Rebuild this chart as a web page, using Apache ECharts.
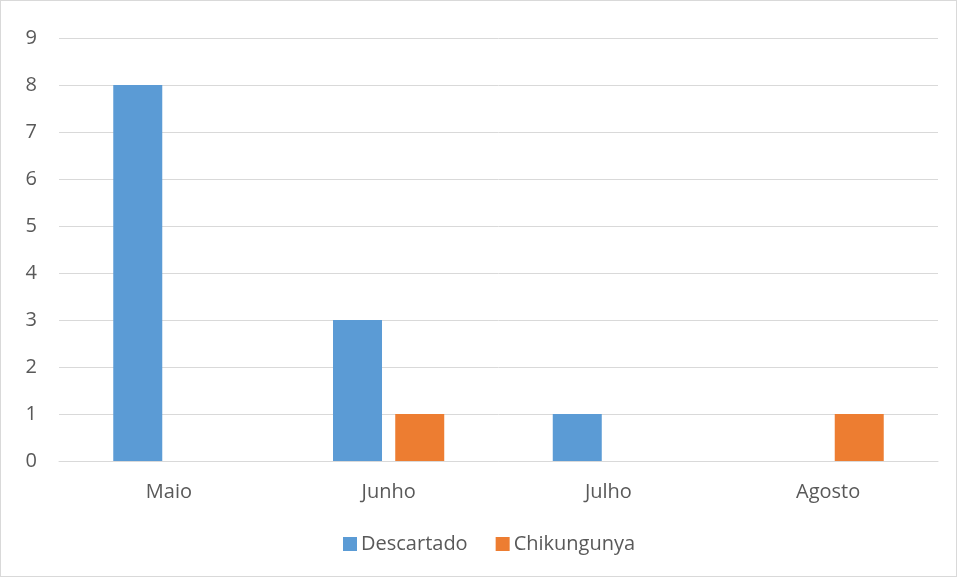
<!DOCTYPE html>
<html>
<head>
<meta charset="utf-8">
<script src="https://cdn.jsdelivr.net/npm/echarts@6/dist/echarts.min.js"></script>
<style>
html,body{margin:0;padding:0;background:#fff;}
#c{position:absolute;left:0;top:0;width:955px;height:575px;border:1px solid #d9d9d9;}
</style>
</head>
<body>
<div id="c"></div>
<script>
const categories = ["Maio", "Junho", "Julho", "Agosto"];
const descartado = [8, 3, 1, 0];
const chikungunya = [0, 1, 0, 1];
const yTicks = [0, 1, 2, 3, 4, 5, 6, 7, 8, 9];

const chart = echarts.init(document.getElementById('c'));
const font = "'Open Sans', 'Noto Sans', sans-serif";
const fs = 20;
chart.setOption({
  animation: false,
  textStyle: {fontFamily: font},
  grid: {left: 58, right: 18, top: 37, bottom: 115},
  legend: {
    bottom: 17,
    left: 337,
    icon: 'rect',
    itemWidth: 14,
    itemHeight: 14,
    itemGap: 28,
    itemStyle: {borderWidth: 0},
    textStyle: {color: '#595959', fontSize: fs, fontFamily: font, padding: [0, 0, 0, -1]},
    data: ['Descartado', 'Chikungunya']
  },
  xAxis: {
    type: 'category',
    data: categories,
    axisLine: {lineStyle: {color: '#d9d9d9'}},
    axisTick: {show: false},
    axisLabel: {color: '#595959', fontSize: fs, margin: 21, fontFamily: font}
  },
  yAxis: {
    type: 'value',
    min: yTicks[0],
    max: yTicks[yTicks.length - 1],
    interval: 1,
    axisLine: {show: false},
    axisTick: {show: false},
    splitLine: {lineStyle: {color: '#d9d9d9'}},
    axisLabel: {color: '#595959', fontSize: fs, margin: 22, fontFamily: font}
  },
  series: [
    {name: 'Descartado', type: 'bar', data: descartado, barWidth: 49, barGap: '27%', itemStyle: {color: '#5b9bd5'}},
    {name: 'Chikungunya', type: 'bar', data: chikungunya, barWidth: 49, itemStyle: {color: '#ed7d31'}}
  ]
});
</script>
</body>
</html>
